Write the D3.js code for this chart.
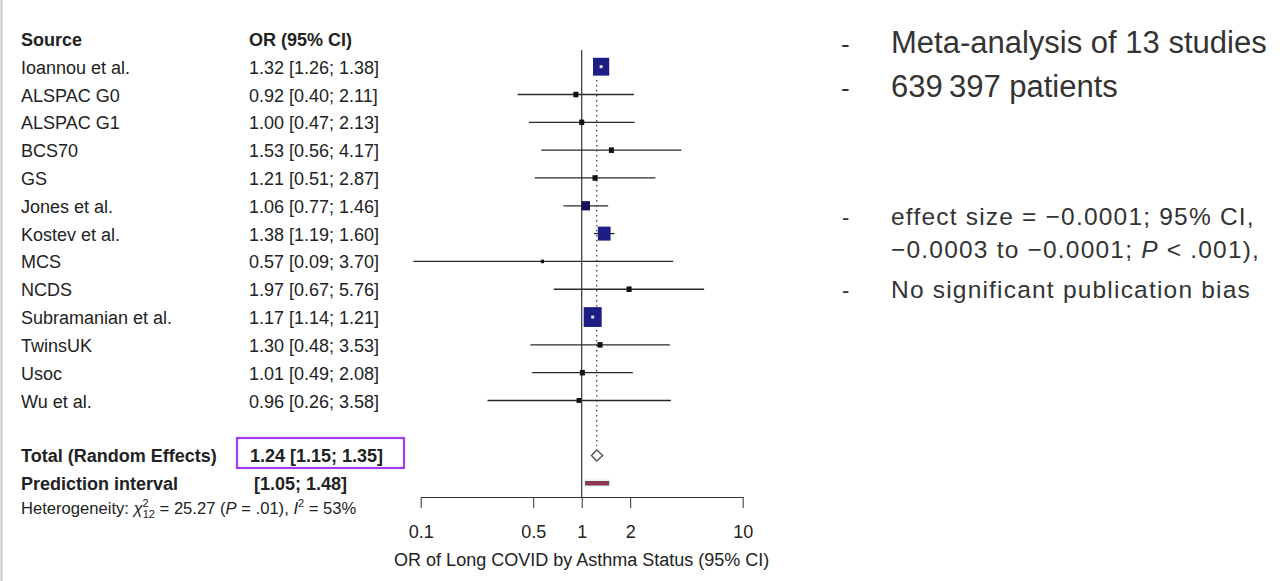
<!DOCTYPE html>
<html>
<head>
<meta charset="utf-8">
<script src="https://cdn.jsdelivr.net/npm/d3@7"></script>
<style>
    body { margin: 0; background: #fff; }
    svg { display: block; font-family: "Liberation Sans", Arial, sans-serif; }
    .tbl { font-size: 18px; fill: #222; }
    .bold { font-weight: bold; }
    .axis text { font-size: 18px; fill: #222; font-family: "Liberation Sans", Arial, sans-serif; }
    .axis path, .axis line { stroke: #333; }
    .note { fill: #333; }
</style>
</head>
<body>
<svg width="1283" height="581"></svg>
<script>
// study data
var studies = ['Ioannou et al.', 'ALSPAC G0', 'ALSPAC G1', 'BCS70', 'GS', 'Jones et al.',
    'Kostev et al.', 'MCS', 'NCDS', 'Subramanian et al.', 'TwinsUK', 'Usoc', 'Wu et al.'];
var orValues = [1.32, 0.92, 1.00, 1.53, 1.21, 1.06, 1.38, 0.57, 1.97, 1.17, 1.30, 1.01, 0.96];
var ciLower = [1.26, 0.40, 0.47, 0.56, 0.51, 0.77, 1.19, 0.09, 0.67, 1.14, 0.48, 0.49, 0.26];
var ciUpper = [1.38, 2.11, 2.13, 4.17, 2.87, 1.46, 1.60, 3.70, 5.76, 1.21, 3.53, 2.08, 3.58];
// approximate study weights (%), estimated from square sizes
var weights = [26, 2.5, 2.5, 2.5, 2.5, 7, 16, 1, 2.5, 32, 2.5, 2.5, 2];

// pooled estimate and prediction interval
var totalOR = [1.24, 1.15, 1.35];
var predInterval = [1.05, 1.48];

var tickValues = [0.1, 0.5, 1, 2, 10];
var tickLabels = ['0.1', '0.5', '1', '2', '10'];

var bullets = ['Meta-analysis of 13 studies', '639\u2009397 patients'];

var svg = d3.select('svg');
var fmt = d3.format('.2f');

var rows = studies.map(function(s, i) {
    return {name: s, or: orValues[i], lo: ciLower[i], hi: ciUpper[i], w: weights[i]};
});

// scales
var xScale = d3.scaleLog()
    .domain([0.1, 10])
    .range([420.7, 742.7]);

var yScale = d3.scalePoint()
    .domain(studies)
    .range([66.7, 400.5]);

var sizeScale = d3.scaleSqrt()
    .domain([0, 32])
    .range([0, 18]);

var axisY = 497;

// faint left frame line
svg.append('line')
    .attr('x1', 1.5).attr('x2', 1.5)
    .attr('y1', 0).attr('y2', 581)
    .attr('stroke', '#c8c8c8')
    .attr('stroke-width', 2);

// column headers
svg.append('text').attr('class', 'tbl bold')
    .attr('x', 21).attr('y', 46).text('Source');
svg.append('text').attr('class', 'tbl bold')
    .attr('x', 249).attr('y', 46).text('OR (95% CI)');

// study rows
svg.selectAll('.src')
    .data(rows).enter()
    .append('text')
    .attr('class', 'tbl src')
    .attr('x', 21)
    .attr('y', function(d) { return yScale(d.name) + 7; })
    .text(function(d) { return d.name; });

svg.selectAll('.orci')
    .data(rows).enter()
    .append('text')
    .attr('class', 'tbl orci')
    .attr('x', 249)
    .attr('y', function(d) { return yScale(d.name) + 7; })
    .text(function(d) {
        return fmt(d.or) + ' [' + fmt(d.lo) + '; ' + fmt(d.hi) + ']';
    });

// totals
svg.append('text').attr('class', 'tbl bold')
    .attr('x', 21).attr('y', 462).text('Total (Random Effects)');
svg.append('text').attr('class', 'tbl bold')
    .attr('x', 250).attr('y', 462)
    .text(fmt(totalOR[0]) + ' [' + fmt(totalOR[1]) + '; ' + fmt(totalOR[2]) + ']');
svg.append('text').attr('class', 'tbl bold')
    .attr('x', 21).attr('y', 490).text('Prediction interval');
svg.append('text').attr('class', 'tbl bold')
    .attr('x', 254).attr('y', 490)
    .text('[' + fmt(predInterval[0]) + '; ' + fmt(predInterval[1]) + ']');

// heterogeneity line
var het = svg.append('text').attr('class', 'tbl')
    .attr('x', 21).attr('y', 514)
    .style('font-size', '16.6px');
het.append('tspan').text('Heterogeneity: ');
het.append('tspan').style('font-style', 'italic').text('\u03c7');
het.append('tspan').attr('dy', -7).style('font-size', '11px').text('2');
het.append('tspan').attr('dx', -6).attr('dy', 11).style('font-size', '11px').text('12');
het.append('tspan').attr('dy', -4).text(' = 25.27 (');
het.append('tspan').style('font-style', 'italic').text('P');
het.append('tspan').text(' = .01), ');
het.append('tspan').style('font-style', 'italic').text('I');
het.append('tspan').attr('dy', -7).style('font-size', '11px').text('2');
het.append('tspan').attr('dy', 7).text(' = 53%');

// highlight box round the pooled estimate
svg.append('rect')
    .attr('x', 237).attr('y', 438)
    .attr('width', 167).attr('height', 30)
    .attr('fill', 'none')
    .attr('stroke', '#a23cf2')
    .attr('stroke-width', 2.2);

// reference line at OR = 1
svg.append('line')
    .attr('x1', xScale(1)).attr('x2', xScale(1))
    .attr('y1', 50).attr('y2', axisY)
    .attr('stroke', '#333')
    .attr('stroke-width', 1.2);

// dotted line at the pooled estimate
svg.append('line')
    .attr('x1', xScale(totalOR[0])).attr('x2', xScale(totalOR[0]))
    .attr('y1', 80).attr('y2', 446)
    .attr('stroke', '#444')
    .attr('stroke-width', 1.3)
    .attr('stroke-dasharray', '1.5,3.5');

// confidence interval lines
svg.selectAll('.ci')
    .data(rows).enter()
    .append('line')
    .attr('class', 'ci')
    .attr('x1', function(d) { return xScale(d.lo); })
    .attr('x2', function(d) { return xScale(d.hi); })
    .attr('y1', function(d) { return yScale(d.name); })
    .attr('y2', function(d) { return yScale(d.name); })
    .attr('stroke', '#2a2a2a')
    .attr('stroke-width', 1.3);

// weighted squares
svg.selectAll('.sq')
    .data(rows).enter()
    .append('rect')
    .attr('class', 'sq')
    .attr('x', function(d) { return xScale(d.or) - sizeScale(d.w) / 2; })
    .attr('y', function(d) { return yScale(d.name) - sizeScale(d.w) * 0.55; })
    .attr('width', function(d) { return sizeScale(d.w); })
    .attr('height', function(d) { return sizeScale(d.w) * 1.1; })
    .attr('fill', function(d) { return d.w > 10 ? '#1d1d86' : (d.w > 5 ? '#14145a' : '#111'); });

// small white mark in the large squares
svg.selectAll('.mark')
    .data(rows.filter(function(d) { return d.w > 20; })).enter()
    .append('rect')
    .attr('class', 'mark')
    .attr('x', function(d) { return xScale(d.or) - 1.5; })
    .attr('y', function(d) { return yScale(d.name) - 1.5; })
    .attr('width', 3).attr('height', 3)
    .attr('fill', '#dcdcf5');

// pooled diamond
var dy = 455.5;
svg.append('path')
    .attr('d', 'M' + xScale(totalOR[1]) + ',' + dy +
        'L' + xScale(totalOR[0]) + ',' + (dy - 5.5) +
        'L' + xScale(totalOR[2]) + ',' + dy +
        'L' + xScale(totalOR[0]) + ',' + (dy + 5.5) + 'Z')
    .attr('fill', '#fff')
    .attr('stroke', '#555')
    .attr('stroke-width', 1.4);

// prediction interval bar
svg.append('rect')
    .attr('x', xScale(predInterval[0]) - 1)
    .attr('y', 479.5)
    .attr('width', xScale(predInterval[1]) - xScale(predInterval[0]) + 2)
    .attr('height', 7)
    .attr('fill', '#d8f4f4');
svg.append('rect')
    .attr('x', xScale(predInterval[0]))
    .attr('y', 481)
    .attr('width', xScale(predInterval[1]) - xScale(predInterval[0]))
    .attr('height', 4.5)
    .attr('fill', '#8e3550');

// x axis
svg.append('g')
    .attr('class', 'axis')
    .attr('transform', 'translate(0,' + axisY + ')')
    .call(d3.axisBottom(xScale)
        .tickValues(tickValues)
        .tickFormat(function(d, i) { return tickLabels[i]; })
        .tickSize(11)
        .tickSizeOuter(0)
        .tickPadding(17));

svg.append('text')
    .attr('class', 'tbl')
    .attr('x', xScale(1))
    .attr('y', 566)
    .attr('text-anchor', 'middle')
    .text('OR of Long COVID by Asthma Status (95% CI)');

// right-hand notes
var big = svg.selectAll('.bullet')
    .data(bullets).enter()
    .append('g')
    .attr('class', 'bullet')
    .attr('transform', function(d, i) { return 'translate(0,' + (53 + i * 44) + ')'; });
big.append('text').attr('class', 'note')
    .attr('x', 841).style('font-size', '26px').text('-');
big.append('text').attr('class', 'note')
    .attr('x', 891).style('font-size', '31px')
    .text(function(d) { return d; });

var small = [225, 258, 298];
svg.append('text').attr('class', 'note')
    .attr('x', 842).attr('y', small[0]).style('font-size', '22px').text('-');
svg.append('text').attr('class', 'note')
    .attr('x', 842).attr('y', small[2]).style('font-size', '22px').text('-');

var smallStyle = function(sel) {
    sel.style('font-size', '24.5px').style('letter-spacing', '1.2px');
};
svg.append('text').attr('class', 'note')
    .attr('x', 891).attr('y', small[0]).call(smallStyle)
    .text('effect size = \u22120.0001; 95% CI,');
var l2 = svg.append('text').attr('class', 'note')
    .attr('x', 891).attr('y', small[1]).call(smallStyle);
l2.append('tspan').text('\u22120.0003 to \u22120.0001; ');
l2.append('tspan').style('font-style', 'italic').text('P');
l2.append('tspan').text(' < .001),');
svg.append('text').attr('class', 'note')
    .attr('x', 891).attr('y', small[2]).call(smallStyle)
    .text('No significant publication bias');
</script>
</body>
</html>
